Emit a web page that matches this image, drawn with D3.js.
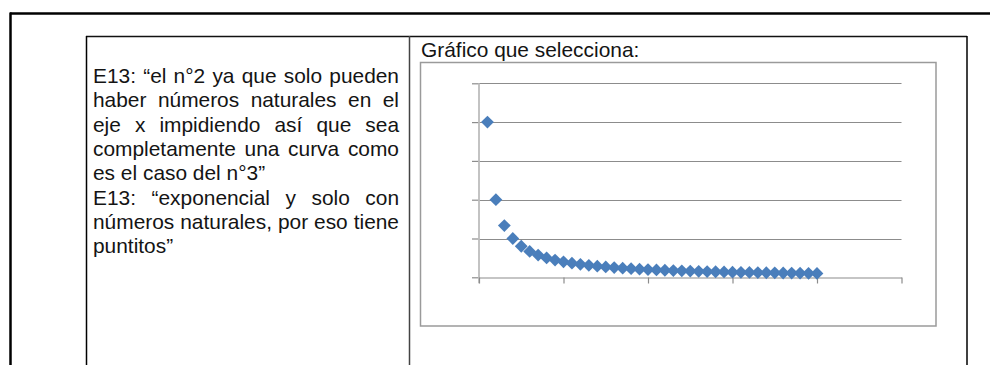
<!DOCTYPE html>
<html>
<head>
<meta charset="utf-8">
<script src="https://cdn.jsdelivr.net/npm/d3@7"></script>
<style>
  html, body { margin: 0; padding: 0; background: #fff; }
  svg { display: block; }
</style>
</head>
<body>
<svg id="c" width="990" height="365"></svg>
<script>
// ---- data ----
const xValues = [1,2,3,4,5,6,7,8,9,10,11,12,13,14,15,16,17,18,19,20,
                 21,22,23,24,25,26,27,28,29,30,31,32,33,34,35,36,37,38,39,40];
const yValues = [1, 0.5, 0.3333, 0.25, 0.2, 0.1667, 0.1429, 0.125, 0.1111, 0.1,
                 0.0909, 0.0833, 0.0769, 0.0714, 0.0667, 0.0625, 0.0588, 0.0556, 0.0526, 0.05,
                 0.0476, 0.0455, 0.0435, 0.0417, 0.04, 0.0385, 0.037, 0.0357, 0.0345, 0.0333,
                 0.0323, 0.0313, 0.0303, 0.0294, 0.0286, 0.0278, 0.027, 0.0263, 0.0256, 0.025];
const xTicks = [0, 10, 20, 30, 40, 50];
const yTicks = [0, 0.25, 0.5, 0.75, 1, 1.25];
const chartTitle = "Gráfico que selecciona:";
const commentLines = [
  {text: "E13: “el n°2 ya que solo pueden", justify: true},
  {text: "haber números naturales en el", justify: true},
  {text: "eje x impidiendo así que sea", justify: true},
  {text: "completamente una curva como", justify: true},
  {text: "es el caso del n°3”", justify: false},
  {text: "E13: “exponencial y solo con", justify: true},
  {text: "números naturales, por eso tiene", justify: true},
  {text: "puntitos”", justify: false}
];

const svg = d3.select("#c");
const FONT = "'Liberation Sans', Arial, sans-serif";
const FS = 20.9;

// ---- page / table frame ----
svg.append("line").attr("x1", 10).attr("x2", 990).attr("y1", 13.5).attr("y2", 13.5)
  .attr("stroke", "#000").attr("stroke-width", 2.5);
svg.append("line").attr("x1", 10.5).attr("x2", 10.5).attr("y1", 12.5).attr("y2", 365)
  .attr("stroke", "#000").attr("stroke-width", 2.5);

svg.append("line").attr("x1", 86).attr("x2", 967).attr("y1", 36.5).attr("y2", 36.5)
  .attr("stroke", "#111").attr("stroke-width", 1.5);
svg.append("line").attr("x1", 86.5).attr("x2", 86.5).attr("y1", 36).attr("y2", 365)
  .attr("stroke", "#000").attr("stroke-width", 1.5);
svg.append("line").attr("x1", 409.5).attr("x2", 409.5).attr("y1", 36).attr("y2", 365)
  .attr("stroke", "#444").attr("stroke-width", 1.5);
svg.append("line").attr("x1", 967).attr("x2", 967).attr("y1", 36).attr("y2", 365)
  .attr("stroke", "#000").attr("stroke-width", 1.5);

// ---- left cell text (justified) ----
const textG = svg.append("g").attr("font-family", FONT).attr("font-size", FS).attr("fill", "#141414");
const left = 93, right = 399, base0 = 83, lh = 24.3;
commentLines.forEach((ln, i) => {
  const y = base0 + i * lh;
  if (!ln.justify) {
    textG.append("text").attr("x", left).attr("y", y).text(ln.text);
    return;
  }
  const words = ln.text.split(" ");
  const nodes = words.map(w => textG.append("text").attr("y", y).text(w));
  const widths = nodes.map(n => n.node().getComputedTextLength());
  const total = d3.sum(widths);
  const gap = (right - left - total) / (words.length - 1);
  let x = left;
  nodes.forEach((n, k) => { n.attr("x", x); x += widths[k] + gap; });
});

// ---- chart title ----
svg.append("text").attr("x", 421).attr("y", 57).attr("font-family", FONT)
  .attr("font-size", FS).attr("fill", "#141414").text(chartTitle);

// ---- chart area ----
svg.append("rect").attr("x", 420.5).attr("y", 62.5).attr("width", 515.5).attr("height", 263.5)
  .attr("fill", "#fff").attr("stroke", "#9a9a9a").attr("stroke-width", 1.5);

const x = d3.scaleLinear().domain([0, 50]).range([479, 901.5]);
const y = d3.scaleLinear().domain([0, 1.25]).range([277.3, 83.3]);

// gridlines
svg.append("g").selectAll("line").data(yTicks.filter(d => d > 0)).join("line")
  .attr("x1", x(0)).attr("x2", x(50))
  .attr("y1", d => Math.round(y(d)) + 0.5).attr("y2", d => Math.round(y(d)) + 0.5)
  .attr("stroke", "#8c8c8c").attr("stroke-width", 1.2);

// y axis (ticks only, no labels)
const yAxis = svg.append("g").attr("transform", `translate(${x(0)},0)`)
  .call(d3.axisLeft(y).tickValues(yTicks).tickSize(7).tickFormat(""));
yAxis.select(".domain").remove();
yAxis.selectAll(".tick line").attr("stroke", "#8c8c8c").attr("stroke-width", 1.2);
svg.append("line").attr("x1", x(0)).attr("x2", x(0)).attr("y1", y(1.25)).attr("y2", y(0) + 6)
  .attr("stroke", "#bdbdbd").attr("stroke-width", 1.8);

// x axis (ticks only, no labels)
const xAxis = svg.append("g").attr("transform", `translate(0,${Math.round(y(0)) + 0.5})`)
  .call(d3.axisBottom(x).tickValues(xTicks).tickSize(6).tickFormat("").tickSizeOuter(0));
xAxis.select(".domain").attr("stroke", "#8c8c8c").attr("stroke-width", 1.2);
xAxis.selectAll(".tick line").attr("stroke", "#8c8c8c").attr("stroke-width", 1.2);

// markers
const diamond = d3.symbol().type(d3.symbolSquare).size(82);
svg.append("g").selectAll("path").data(xValues.map((v, i) => [v, yValues[i]])).join("path")
  .attr("d", diamond)
  .attr("transform", d => `translate(${x(d[0])},${y(d[1])}) rotate(45)`)
  .attr("fill", "#4a7ebb");
</script>
</body>
</html>
